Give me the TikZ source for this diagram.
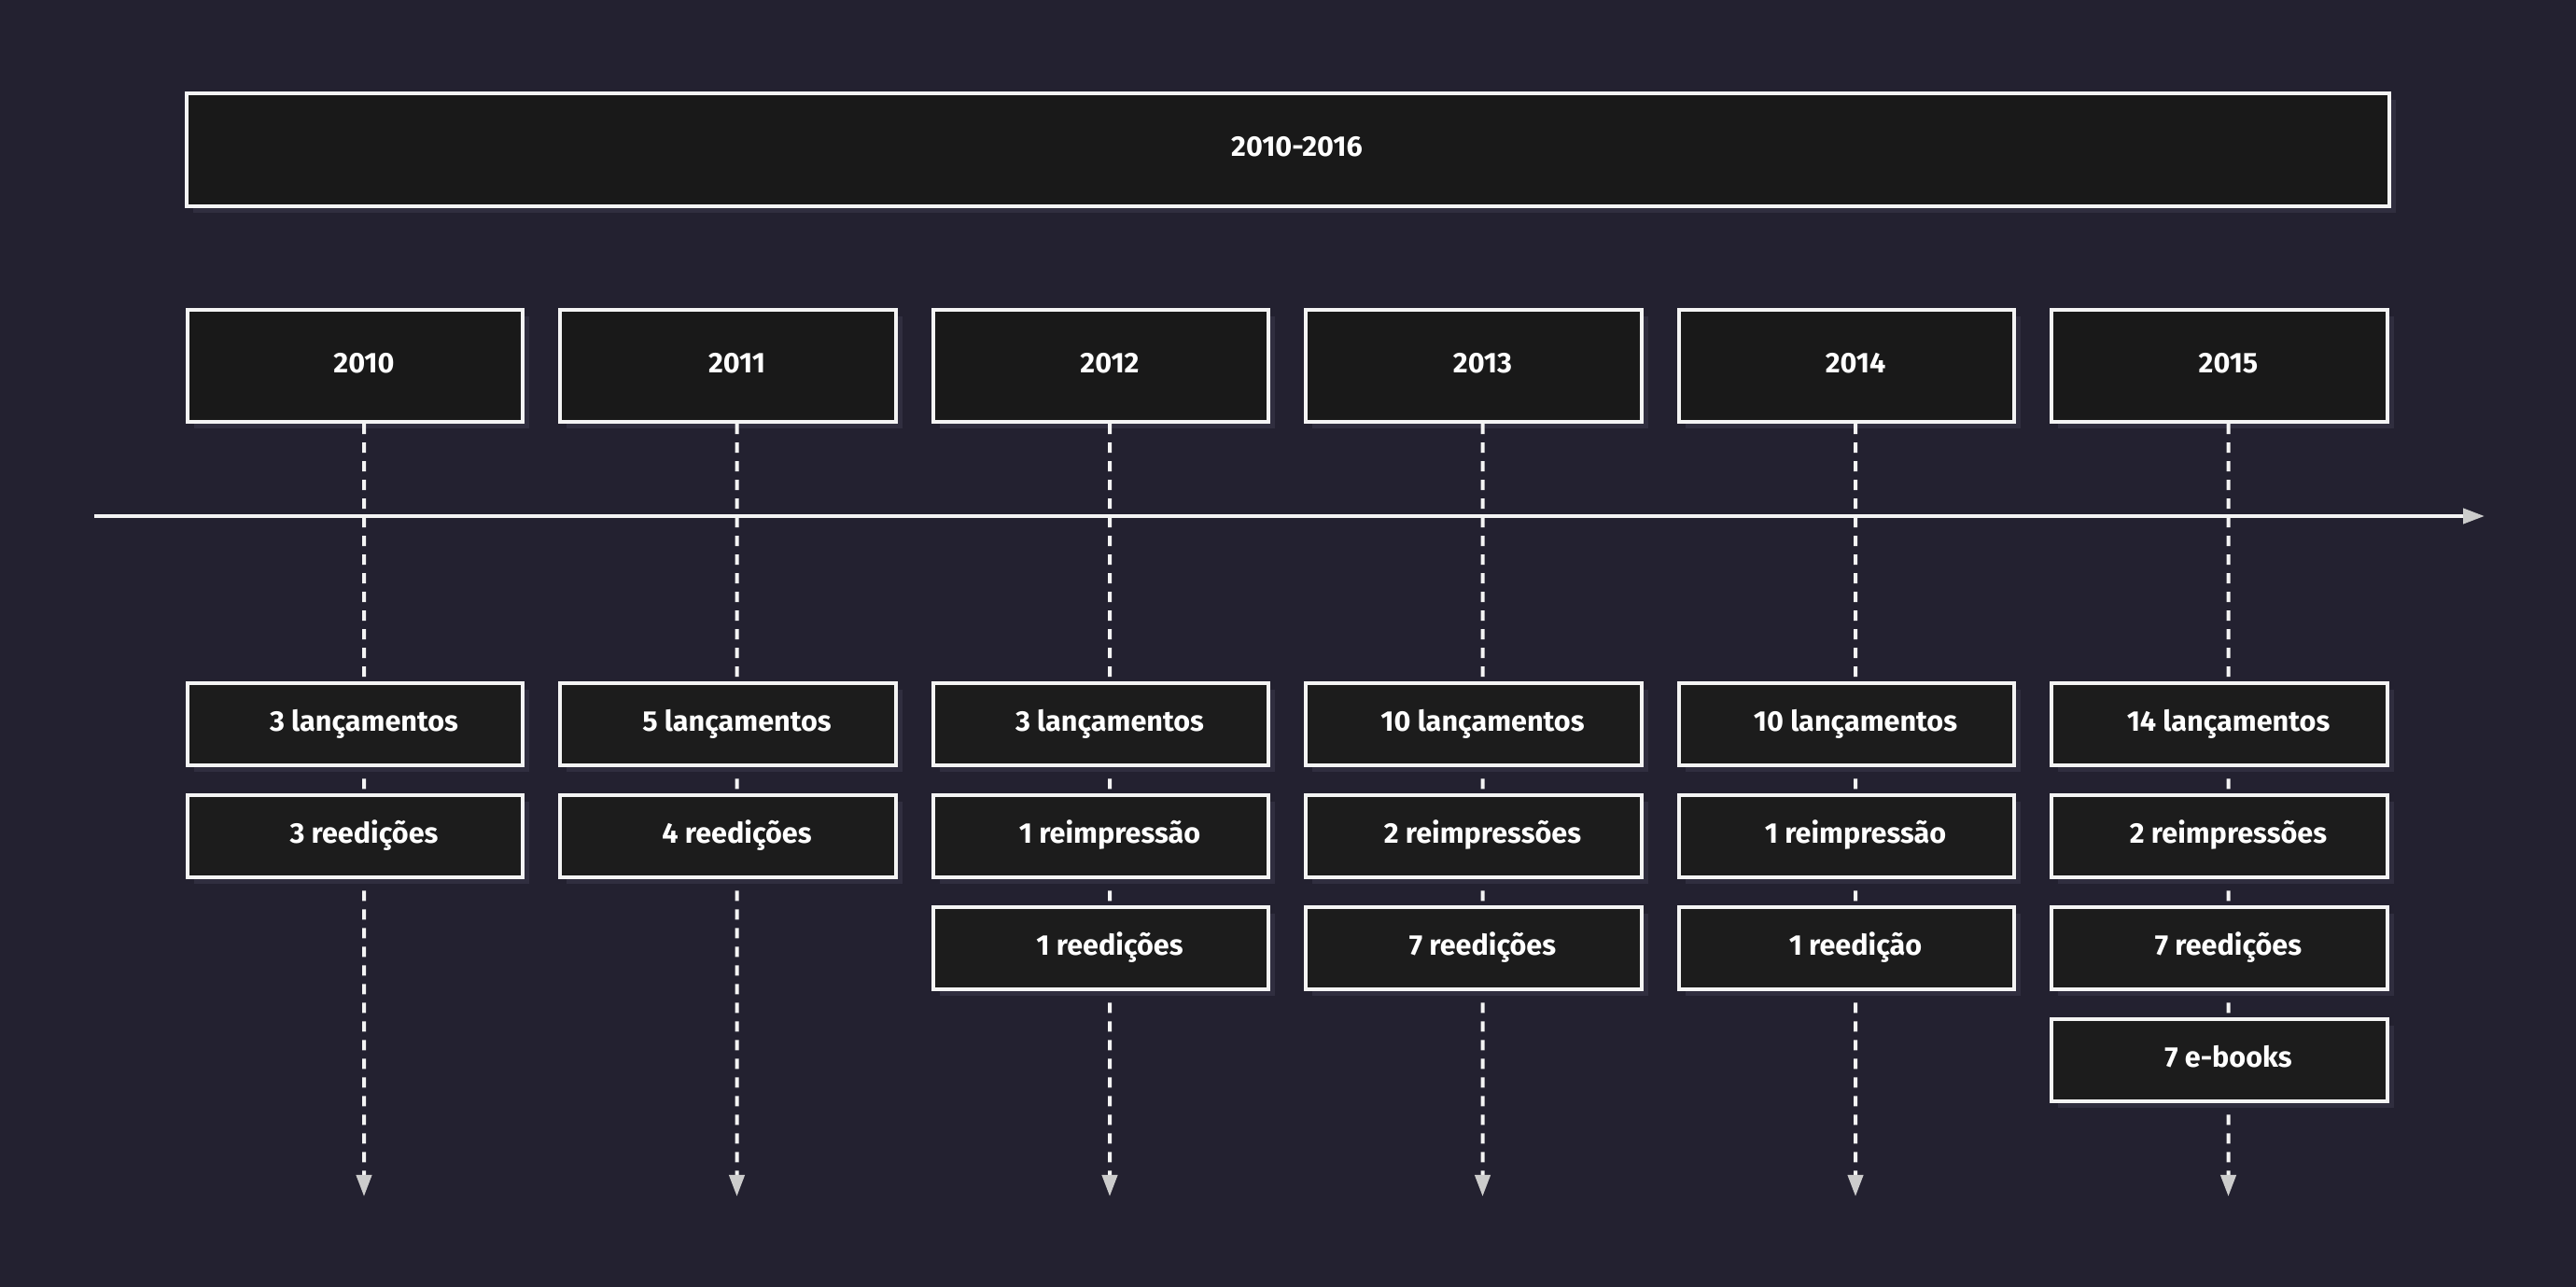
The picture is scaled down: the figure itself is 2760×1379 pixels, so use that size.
\documentclass[tikz,border=0pt]{standalone}
\usepackage{fontspec}
\setmainfont{Fira Sans}
\usetikzlibrary{arrows.meta,shadows}
\definecolor{bgcol}{HTML}{232130}
\definecolor{shcol}{HTML}{302E3F}
\definecolor{boxfill}{HTML}{191919}
\definecolor{evfill}{HTML}{1C1C1C}
\definecolor{edgecol}{HTML}{F4F4F4}
\definecolor{tipcol}{HTML}{CCCCCC}
\begin{document}
\begin{tikzpicture}[x=0.01cm,y=-0.01cm,
  every node/.style={font=\bfseries\fontsize{8.7pt}{10pt}\selectfont, text=white},
  basebox/.style={rectangle, draw=edgecol, line width=0.04cm, inner sep=0pt,
    text height=0.21cm, text depth=0.07cm,
    drop shadow={shadow xshift=0.07cm, shadow yshift=-0.07cm, fill=shcol, opacity=1}},
  topbox/.style={basebox, fill=boxfill, minimum width=23.58cm, minimum height=1.21cm},
  yearbox/.style={basebox, fill=boxfill, minimum width=3.59cm, minimum height=1.20cm},
  evbox/.style={basebox, fill=evfill, minimum width=3.59cm, minimum height=0.88cm},
  tl/.style={draw=edgecol, line width=0.04cm, dash pattern=on 0.11cm off 0.09cm,
    -{Triangle[length=0.23cm,width=0.16cm,color=tipcol]}},
  axis/.style={draw=edgecol, line width=0.04cm,
    -{Triangle[length=0.23cm,width=0.16cm,color=tipcol]}}
]
\fill[bgcol] (0,0) rectangle (2760,1379);
\useasboundingbox (0,0) rectangle (2760,1379);

% axis end points
\coordinate (axL) at (101,553);
\coordinate (axR) at (2662,553);

% column centres
\def\cA{380.5}\def\cB{780}\def\cC{1179.5}\def\cD{1579}\def\cE{1978.5}\def\cF{2378}

% year boxes
\node[yearbox] (y0) at (\cA,392) {\hspace*{0.19cm}2010};
\node[yearbox] (y1) at (\cB,392) {\hspace*{0.19cm}2011};
\node[yearbox] (y2) at (\cC,392) {\hspace*{0.19cm}2012};
\node[yearbox] (y3) at (\cD,392) {\hspace*{0.19cm}2013};
\node[yearbox] (y4) at (\cE,392) {\hspace*{0.19cm}2014};
\node[yearbox] (y5) at (\cF,392) {\hspace*{0.19cm}2015};

% end coordinates of dashed lines
\coordinate (z0) at (\cA+9.5,1282);
\coordinate (z1) at (\cB+9.5,1282);
\coordinate (z2) at (\cC+9.5,1282);
\coordinate (z3) at (\cD+9.5,1282);
\coordinate (z4) at (\cE+9.5,1282);
\coordinate (z5) at (\cF+9.5,1282);

\foreach \i in {0,...,5}{
  \draw[tl] ([xshift=0.095cm]y\i.south) -- (z\i);
}
\draw[axis] (axL) -- (axR);

% top box
\node[topbox] (top) at (1380,160.5) {\hspace*{0.19cm}2010-2016};

% event boxes
\node[evbox] (a0) at (\cA,776) {\hspace*{0.19cm}3 lançamentos};
\node[evbox] (a1) at (\cA,896) {\hspace*{0.19cm}3 reedições};

\node[evbox] (b0) at (\cB,776) {\hspace*{0.19cm}5 lançamentos};
\node[evbox] (b1) at (\cB,896) {\hspace*{0.19cm}4 reedições};

\node[evbox] (c0) at (\cC,776) {\hspace*{0.19cm}3 lançamentos};
\node[evbox] (c1) at (\cC,896) {\hspace*{0.19cm}1 reimpressão};
\node[evbox] (c2) at (\cC,1016) {\hspace*{0.19cm}1 reedições};

\node[evbox] (d0) at (\cD,776) {\hspace*{0.19cm}10 lançamentos};
\node[evbox] (d1) at (\cD,896) {\hspace*{0.19cm}2 reimpressões};
\node[evbox] (d2) at (\cD,1016) {\hspace*{0.19cm}7 reedições};

\node[evbox] (e0) at (\cE,776) {\hspace*{0.19cm}10 lançamentos};
\node[evbox] (e1) at (\cE,896) {\hspace*{0.19cm}1 reimpressão};
\node[evbox] (e2) at (\cE,1016) {\hspace*{0.19cm}1 reedição};

\node[evbox] (f0) at (\cF,776) {\hspace*{0.19cm}14 lançamentos};
\node[evbox] (f1) at (\cF,896) {\hspace*{0.19cm}2 reimpressões};
\node[evbox] (f2) at (\cF,1016) {\hspace*{0.19cm}7 reedições};
\node[evbox] (f3) at (\cF,1136) {\hspace*{0.19cm}7 e-books};
\end{tikzpicture}
\end{document}
